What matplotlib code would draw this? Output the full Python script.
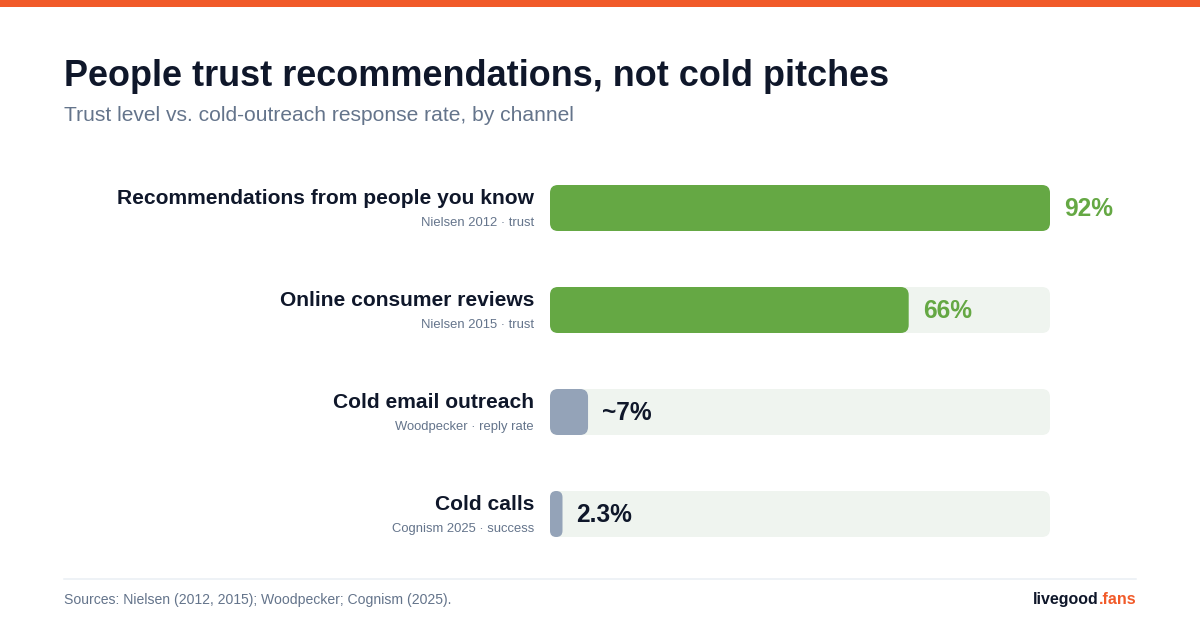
import matplotlib as mpl
import matplotlib.pyplot as plt
from matplotlib.patches import FancyBboxPatch, Rectangle
from matplotlib.lines import Line2D

mpl.rc('font', family=['Liberation Sans', 'DejaVu Sans'])

# data
channels = ['Recommendations from people you know', 'Online consumer reviews',
            'Cold email outreach', 'Cold calls']
sources = ['Nielsen 2012 · trust', 'Nielsen 2015 · trust',
           'Woodpecker · reply rate', 'Cognism 2025 · success']
values = [92, 66, 7, 2.3]
value_labels = ['92%', '66%', '~7%', '2.3%']
is_trust = [True, True, False, False]
scale_max = 92

GREEN = '#65a844'
TRACK = '#eff4ef'
SLATE = '#94a3b8'
DARK = '#0f172a'
GREY = '#64748b'
ORANGE = '#f15a29'

# dpi 72 -> 1 point == 1 pixel
W, H = 1200, 630
fig = plt.figure(figsize=(W / 72, H / 72), dpi=72)
fig.patch.set_facecolor('white')

def fx(px):
    return px / W

def fy(py):
    return 1 - py / H

# top orange strip
fig.add_artist(Rectangle((0, fy(7)), 1, 7 / H, transform=fig.transFigure,
                         color=ORANGE, lw=0))

fig.text(fx(64), fy(86), 'People trust recommendations, not cold pitches',
         fontsize=36, fontweight='bold', color=DARK, va='baseline')
fig.text(fx(64), fy(121), 'Trust level vs. cold-outreach response rate, by channel',
         fontsize=21, color=GREY, va='baseline')

# bar axes: x 550..1050 px, rows every 102 px starting at 208
row_px = 102
ax = fig.add_axes([fx(550), fy(514 + row_px / 2), fx(500), (4 * row_px) / H])
ax.set_xlim(0, scale_max)
ax.set_ylim(3.5, -0.5)
ax.axis('off')

bar_h = 46 / row_px
x_per_px = scale_max / 500
y_per_px = 1 / row_px
aspect = y_per_px / x_per_px

def rbar(x0, width, yc, color):
    r_px = min(8, width / x_per_px / 2)
    p = FancyBboxPatch((x0, yc - bar_h / 2), width, bar_h,
                       boxstyle=f'round,pad=0,rounding_size={r_px * x_per_px}',
                       mutation_aspect=aspect, fc=color, ec='none')
    ax.add_patch(p)

for i, (name, src, v, lab, trust) in enumerate(zip(channels, sources, values,
                                                    value_labels, is_trust)):
    rbar(0, scale_max, i, TRACK)
    rbar(0, v, i, GREEN if trust else SLATE)
    ax.annotate(name, xy=(0, i), xytext=(-16, 4),
                textcoords='offset points', ha='right', va='baseline',
                fontsize=21, fontweight='bold', color=DARK, annotation_clip=False)
    ax.annotate(src, xy=(0, i), xytext=(-16, -18),
                textcoords='offset points', ha='right', va='baseline',
                fontsize=13, color=GREY, annotation_clip=False)
    ax.annotate(lab, xy=(v, i), xytext=(14, -8), textcoords='offset points',
                ha='left', va='baseline', fontsize=24.5, fontweight='bold',
                color=GREEN if trust else DARK, annotation_clip=False)

# footer
fig.add_artist(Line2D([fx(64), fx(1136)], [fy(579), fy(579)],
                      transform=fig.transFigure, color='#e9eef4', lw=1.5))
fig.text(fx(64), fy(604), 'Sources: Nielsen (2012, 2015); Woodpecker; Cognism (2025).',
         fontsize=14, color=GREY, va='baseline')
t = fig.text(fx(1136), fy(604), '.fans', fontsize=16, fontweight='bold',
             color=ORANGE, va='baseline', ha='right')
fig.canvas.draw()
bb = t.get_window_extent()
fig.text(bb.x0 / W, fy(604), 'livegood', fontsize=16, fontweight='bold',
         color=DARK, va='baseline', ha='right')

fig.savefig('out.png', dpi=72, facecolor='white')
